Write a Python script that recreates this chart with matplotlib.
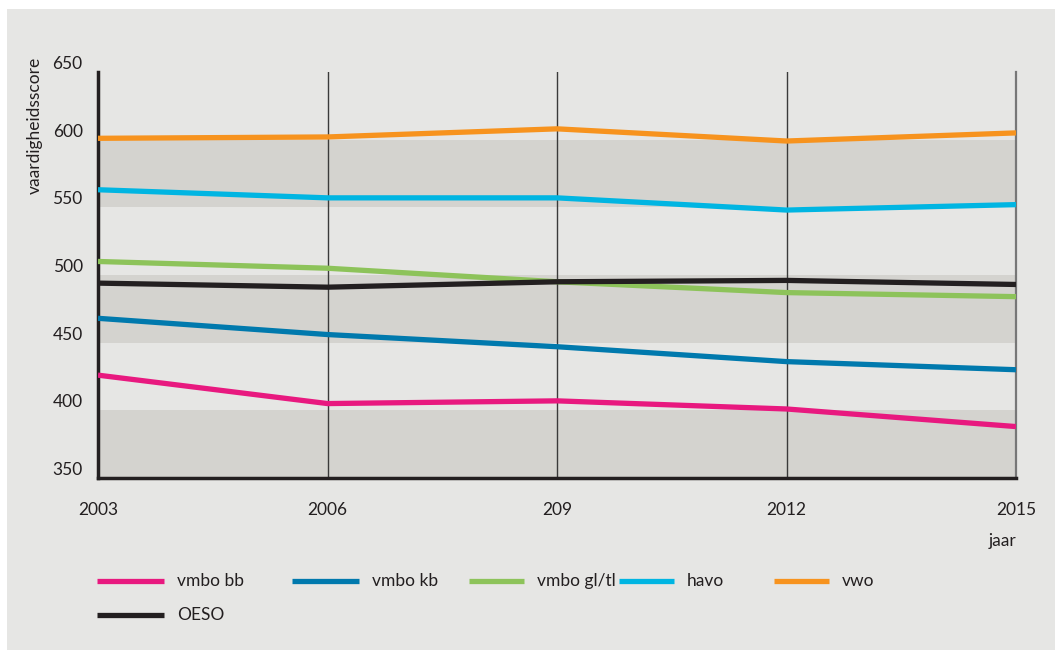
import numpy as np
import matplotlib.pyplot as plt
from matplotlib.lines import Line2D
from matplotlib.patches import Rectangle

years = [2003, 2006, 2009, 2012, 2015]
year_labels = ["2003", "2006", "209", "2012", "2015"]

vmbo_bb = [426, 405, 407, 401, 388]
vmbo_kb = [468, 456, 447, 436, 430]
vmbo_gltl = [510, 505, 495, 487, 484]
havo = [563, 557, 557, 548, 552]
vwo = [601, 602, 608, 599, 605]
oeso = [494, 491, 495, 496, 493]

series = [
    ("vmbo bb", vmbo_bb, "#e8197f"),
    ("vmbo kb", vmbo_kb, "#0079ad"),
    ("vmbo gl/tl", vmbo_gltl, "#8dc35a"),
    ("havo", havo, "#00b5e2"),
    ("vwo", vwo, "#f7931e"),
    ("OESO", oeso, "#231f20"),
]
bands = [(350, 400), (450, 500), (550, 600)]

plt.rcParams["font.family"] = ["Lato", "DejaVu Sans"]
text_col = "#231f20"
bg = "#e6e6e4"
band_col = "#d4d3cf"
fs = 12.5

W, H = 1055, 650
fig = plt.figure(figsize=(W / 100, H / 100), dpi=100)
fig.patch.set_facecolor("white")
fig.patches.append(Rectangle((7 / W, 0), 1, 1 - 9 / H, transform=fig.transFigure,
                             facecolor=bg, edgecolor="none", zorder=-10))

ax = fig.add_axes([98 / W, 1 - 478 / H, (1016 - 98) / W, (478 - 72) / H])
ax.set_facecolor(bg)
ax.set_xlim(2003, 2015)
ax.set_ylim(350, 650)

for lo, hi in bands:
    ax.axhspan(lo, hi, color=band_col, lw=0, zorder=0)

for x in years[1:-1]:
    ax.axvline(x, color="#3a3a3a", lw=1.0, zorder=1)

for name, vals, col in series:
    ax.plot(years, vals, color=col, lw=3.8, zorder=3, solid_capstyle="butt")

ax.spines["top"].set_visible(False)
ax.spines["left"].set_linewidth(2.5)
ax.spines["left"].set_color(text_col)
ax.spines["bottom"].set_linewidth(2.5)
ax.spines["bottom"].set_color(text_col)
ax.spines["right"].set_linewidth(1.6)
ax.spines["right"].set_color("#777777")

ax.set_xticks(years)
ax.set_xticklabels(year_labels)
ax.set_yticks(np.arange(350, 651, 50))
ax.tick_params(length=0, labelsize=fs, colors=text_col, pad=17)
ax.tick_params(axis="y", pad=11)
for lbl in ax.get_yticklabels():
    lbl.set_verticalalignment("bottom")

fig.text(35 / W, 1 - 57 / H, "vaardigheidsscore", rotation=90, ha="center", va="top",
         fontsize=fs, color=text_col)
fig.text(1016 / W, 1 - 541 / H, "jaar", ha="right", va="center", fontsize=fs, color=text_col)

# legend, drawn by hand to follow the uneven spacing of the original
leg_pos = [(97, 581, 67), (292, 581, 67), (469, 581, 55), (619, 581, 55),
           (774, 581, 55), (97, 615, 67)]
for (name, vals, col), (lx, ly, lw_px) in zip(series, leg_pos):
    yf = 1 - ly / H
    fig.add_artist(Line2D([lx / W, (lx + lw_px) / W], [yf, yf], color=col, lw=3.8,
                          transform=fig.transFigure, solid_capstyle="butt"))
    fig.text((lx + lw_px + 13) / W, yf, name, ha="left", va="center", fontsize=fs,
             color=text_col)

fig.savefig("out.png", dpi=100)
